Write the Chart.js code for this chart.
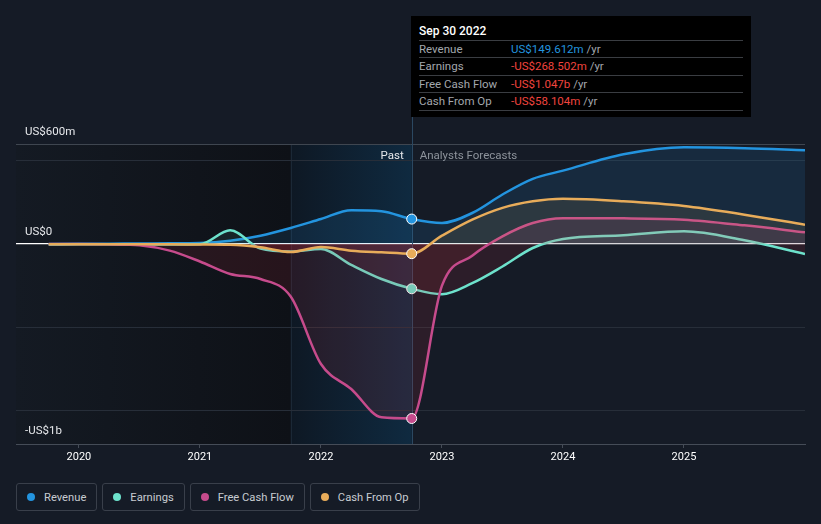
<!DOCTYPE html>
<html>
<head>
<meta charset="utf-8">
<script src="https://cdn.jsdelivr.net/npm/chart.js@4.4.1/dist/chart.umd.min.js"></script>
<style>
  html, body { margin: 0; padding: 0; background: #151b26; width: 821px; height: 524px; overflow: hidden; font-family: Roboto, 'Open Sans', sans-serif; }
  #wrap { position: relative; width: 821px; height: 524px; }
  canvas { position: absolute; left: 0; top: 0; }
  .tip { position: absolute; left: 411px; top: 16px; width: 340px; height: 101px; background: #000; box-sizing: border-box; padding: 5px 8px 0 8px; }
  .tip-title { color: #fff; font-size: 12px; font-weight: 500; height: 20px; line-height: 20px; border-bottom: 1px solid #3a3d42; box-sizing: border-box; }
  .tip-row { display: flex; height: 17.4px; line-height: 16.4px; font-size: 11.5px; border-bottom: 1px solid #3a3d42; box-sizing: border-box; }
  .tip-row .lbl { width: 92px; color: #a3a7ad; }
  .tip-row .unit { color: #a3a7ad; }
  .pos { color: #2394df; }
  .neg { color: #f0443e; }
  .legend { position: absolute; left: 16px; top: 483px; display: flex; gap: 5px; }
  .legend-item { height: 28px; border: 1px solid #393f4a; border-radius: 3px; box-sizing: border-box; display: flex; align-items: center; padding: 0 10px 0 10px; color: #c7cbd1; font-size: 11.2px; }
  .legend-item i { display: inline-block; width: 8px; height: 8px; border-radius: 50%; margin-right: 9px; }
</style>
</head>
<body>
<div id="wrap">
  <canvas id="chart" width="821" height="470"></canvas>
  <div class="tip">
    <div class="tip-title">Sep 30 2022</div>
    <div class="tip-row"><span class="lbl">Revenue</span><span class="pos">US$149.612m</span>&nbsp;<span class="unit">/yr</span></div>
    <div class="tip-row"><span class="lbl">Earnings</span><span class="neg">-US$268.502m</span>&nbsp;<span class="unit">/yr</span></div>
    <div class="tip-row"><span class="lbl">Free Cash Flow</span><span class="neg">-US$1.047b</span>&nbsp;<span class="unit">/yr</span></div>
    <div class="tip-row"><span class="lbl">Cash From Op</span><span class="neg">-US$58.104m</span>&nbsp;<span class="unit">/yr</span></div>
  </div>
  <div class="legend" id="legend"></div>
</div>
<script>
/* ══════════════════════════════════════════════
   DATA — values in US$ millions, x in years
══════════════════════════════════════════════ */
const years    = [2019.75, 2020, 2020.25, 2020.5, 2020.75, 2021, 2021.25, 2021.5, 2021.75, 2022, 2022.25, 2022.5, 2022.75,
                  2023, 2023.25, 2023.5, 2023.75, 2024, 2024.5, 2025, 2025.5, 2026];
const revenue  = [0, 1, 2, 3, 4, 6, 20, 50, 96, 150, 203, 197, 149.6,
                  126, 186, 297, 391, 440, 538, 580, 575, 563];
const earnings = [-3, -2, -2, -3, -3, -2, 82, -28, -45, -30, -125, -210, -268.5,
                  -301, -235, -135, -24, 30, 52, 76, 22, -60];
const fcf      = [0, 0, -2, -8, -40, -105, -180, -210, -315, -720, -870, -1040, -1047,
                  -250, -70, 46, 126, 155, 154, 146, 112, 70];
const cfo      = [-2, -2, -2, -2, -2, -3, -5, -20, -48, -18, -40, -50, -58.1,
                  50, 146, 217, 256, 271, 256, 228, 176, 116];

const xTicks    = [2020, 2021, 2022, 2023, 2024, 2025];
const yGrid     = [-1000, -500, 0, 500, 600];
const yLabels   = [{ v: 600, text: 'US$600m' }, { v: 0, text: 'US$0' }, { v: -1000, text: '-US$1b' }];
const pastEnd   = 2022.75;
const pastStart = 2021.75;

const series = [
  { label: 'Revenue',        data: revenue,  color: '#2394df', fill: 'rgba(35,148,223,0.13)' },
  { label: 'Earnings',       data: earnings, color: '#6de2cc', fill: 'rgba(109,226,204,0.09)' },
  { label: 'Free Cash Flow', data: fcf,      color: '#c64b8c', fill: 'rgba(198,75,140,0.12)' },
  { label: 'Cash From Op',   data: cfo,      color: '#e8ac5a', fill: 'rgba(232,172,90,0.10)' }
];

/* ══════════════════════════════════════════════
   PLUGINS
══════════════════════════════════════════════ */
const backdrop = {
  id: 'backdrop',
  beforeDraw(chart) {
    const { ctx, chartArea: a, scales: { x } } = chart;
    const xs = x.getPixelForValue(pastStart);
    const xe = x.getPixelForValue(pastEnd);
    ctx.save();
    let g = ctx.createLinearGradient(a.left, 0, xs, 0);
    g.addColorStop(0, '#141a23');
    g.addColorStop(1, '#0e1117');
    ctx.fillStyle = g;
    ctx.fillRect(a.left, a.top, xs - a.left, a.bottom - a.top);
    g = ctx.createLinearGradient(xs, 0, xe, 0);
    g.addColorStop(0, '#0e1824');
    g.addColorStop(1, '#0f2a40');
    ctx.fillStyle = g;
    ctx.fillRect(xs, a.top, xe - xs, a.bottom - a.top);
    ctx.fillStyle = '#1b2836';
    ctx.fillRect(Math.round(xs), a.top, 1, a.bottom - a.top);
    ctx.restore();
  },
  beforeDatasetsDraw(chart) {
    const { ctx, chartArea: a, scales: { x } } = chart;
    const xe = Math.round(x.getPixelForValue(pastEnd));
    ctx.save();
    ctx.fillStyle = '#2b4861';
    ctx.fillRect(xe, 117, 1, a.bottom - 117);
    ctx.restore();
  }
};

const labels = {
  id: 'labels',
  afterDraw(chart) {
    const { ctx, chartArea: a, scales: { x, y } } = chart;
    const xe = x.getPixelForValue(pastEnd);
    ctx.save();
    ctx.font = '11.5px Roboto, sans-serif';
    ctx.textBaseline = 'middle';
    ctx.fillStyle = '#e6e8eb';
    yLabels.forEach(l => {
      const py = y.getPixelForValue(l.v);
      ctx.fillText(l.text, a.left + 9, l.v < 0 ? py + 20 : py - 12);
    });
    const ty = y.getPixelForValue(600) + 12;
    ctx.textAlign = 'right';
    ctx.fillStyle = '#e6e8eb';
    ctx.fillText('Past', xe - 8, ty);
    ctx.textAlign = 'left';
    ctx.fillStyle = '#8d939b';
    ctx.fillText('Analysts Forecasts', xe + 8, ty);
    ctx.restore();
  }
};

/* ══════════════════════════════════════════════
   CHART
══════════════════════════════════════════════ */
const datasets = series.map((s, i) => ({
  label: s.label,
  data: years.map((yr, j) => ({ x: yr, y: s.data[j] })),
  borderColor: s.color,
  borderWidth: 2.5,
  fill: { target: 'origin', above: s.fill, below: 'rgba(200,45,60,0.13)' },
  cubicInterpolationMode: 'monotone',
  pointRadius: ctx => (ctx.raw && ctx.raw.x === pastEnd ? 5 : 0),
  pointBackgroundColor: s.color,
  pointBorderColor: '#ffffff',
  pointBorderWidth: 1,
  order: series.length - 1 - i
}));
datasets.reverse();

new Chart(document.getElementById('chart').getContext('2d'), {
  type: 'line',
  data: { datasets },
  options: {
    responsive: false, animation: false, devicePixelRatio: 1,
    layout: { padding: { top: 144, left: 16, right: 16, bottom: 0 } },
    plugins: { legend: { display: false }, tooltip: { enabled: false } },
    scales: {
      x: {
        type: 'linear', min: 2019.48, max: 2026,
        afterBuildTicks: sc => { sc.ticks = xTicks.map(v => ({ value: v })); },
        afterFit: sc => { sc.height = 26; },
        grid: { drawOnChartArea: false, drawTicks: true, tickLength: 4, color: '#454c57' },
        border: { display: true, color: '#454c57' },
        ticks: { color: '#ffffff', font: { size: 11, family: 'Roboto' }, padding: 3, maxRotation: 0, callback: v => String(v) }
      },
      y: {
        min: -1200, max: 600,
        afterBuildTicks: sc => { sc.ticks = yGrid.map(v => ({ value: v })); },
        afterFit: sc => { sc.width = 0; },
        grid: {
          drawTicks: false,
          color: c => c.tick.value === 0 ? '#ffffff' : (c.tick.value === 600 ? '#3f4650' : '#272e39'),
          lineWidth: c => c.tick.value === 0 ? 1.2 : 1
        },
        border: { display: false },
        ticks: { display: false }
      }
    }
  },
  plugins: [backdrop, labels]
});

document.getElementById('legend').innerHTML = series.map(s =>
  `<div class="legend-item"><i style="background:${s.color}"></i>${s.label}</div>`
).join('');
</script>
</body>
</html>
